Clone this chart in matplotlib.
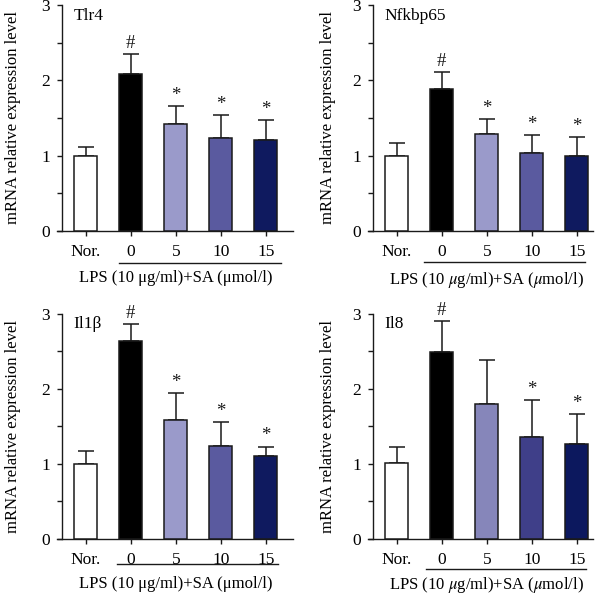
import matplotlib
matplotlib.use("Agg")
import numpy as np
from matplotlib import pyplot as plt
from matplotlib.ticker import MultipleLocator

plt.rcParams["font.family"] = ["Liberation Serif", "DejaVu Serif"]
plt.rcParams["mathtext.fontset"] = "stix"

# Data (mean and upper SD per group).
groups = ["Nor.", "0", "5", "10", "15"]
genes = ["Tlr4", "Nfkbp65", "Il1β", "Il8"]

tlr4_mean = [1.00, 2.09, 1.42, 1.23, 1.21]
tlr4_sd = [0.12, 0.26, 0.24, 0.31, 0.26]

nfkbp65_mean = [1.00, 1.89, 1.29, 1.04, 1.00]
nfkbp65_sd = [0.17, 0.22, 0.20, 0.23, 0.25]

il1b_mean = [1.00, 2.64, 1.58, 1.24, 1.10]
il1b_sd = [0.17, 0.23, 0.37, 0.32, 0.13]

il8_mean = [1.01, 2.49, 1.80, 1.36, 1.26]
il8_sd = [0.21, 0.42, 0.59, 0.49, 0.41]

marks_default = ["", "#", "*", "*", "*"]
marks_il8 = ["", "#", "", "*", "*"]

colors_a = ["white", "black", "#9a9aca", "#5a5a9f", "#0f1a5f"]
colors_b = ["white", "black", "#8686ba", "#3f3f89", "#0c185e"]

label_upright = "LPS (10 μg/ml)+SA (μmol/l)"
label_italic = r"LPS (10 $\mu$g/ml)+SA ($\mu$mol/l)"

W, H = 600, 595
fig = plt.figure(figsize=(W / 100, H / 100), dpi=100)

# axes boxes in pixels: (left, top, right, bottom)
boxes = [
    (57, 5, 293, 231),
    (368, 5, 593, 231),
    (57, 314, 293, 538.7),
    (368, 314, 593, 538.7),
]
panels = [
    (genes[0], tlr4_mean, tlr4_sd, marks_default, colors_a, label_upright, 32, 47, (0.73, 4.33)),
    (genes[1], nfkbp65_mean, nfkbp65_sd, marks_default, colors_a, label_italic, 31, 49, (0.61, 4.18)),
    (genes[2], il1b_mean, il1b_sd, marks_default, colors_a, label_upright, 25, 45, (0.69, 4.28)),
    (genes[3], il8_mean, il8_sd, marks_il8, colors_b, label_italic, 30, 46.5, (0.65, 4.20)),
]

ink = "#1a1a1a"
fs = 12
tfs = 12.5

for box, (name, mean, sd, marks, colors, xlabel, line_off, lab_off, line_x) in zip(boxes, panels):
    l, t, r, b = box
    ax = fig.add_axes([l / W, 1 - b / H, (r - l) / W, (b - t) / H])
    height_px = b - t
    x = np.arange(len(groups))

    ax.errorbar(x, mean, yerr=[np.zeros(len(sd)), sd], fmt="none", ecolor=ink,
                elinewidth=1.1, capsize=5.5, capthick=1.1, zorder=2)
    ax.bar(x, mean, width=0.51, color=colors, edgecolor=ink, linewidth=1.1, zorder=3)

    for xi, m, s, mk in zip(x, mean, sd, marks):
        if mk:
            ax.annotate(mk, (xi, m + s), xytext=(0, 1.5), textcoords="offset points",
                        ha="center", va="bottom", fontsize=13.5, color=ink,
                        annotation_clip=False)

    ax.set_xlim(-0.64, (r - l) / 45 - 0.64)
    ax.set_ylim(0, 3)
    ax.spines["left"].set_position(("data", -0.53))
    for side in ["top", "right"]:
        ax.spines[side].set_visible(False)
    for side in ["left", "bottom"]:
        ax.spines[side].set_linewidth(1.0)
        ax.spines[side].set_color(ink)

    ax.yaxis.set_major_locator(MultipleLocator(1))
    ax.yaxis.set_minor_locator(MultipleLocator(0.5))
    ax.tick_params(axis="y", which="both", length=3.6, width=1.0, color=ink,
                   labelsize=tfs, pad=5)
    ax.set_xticks(x)
    ax.set_xticklabels(groups)
    ax.tick_params(axis="x", length=3.6, width=1.0, color=ink, labelsize=tfs, pad=6)

    ax.set_ylabel("mRNA relative expression level", fontsize=fs, va="center")
    ax.yaxis.set_label_coords(-0.186 if l < 300 else -0.178, 0.5)

    ax.text(-0.28, 2.86, name, ha="left", va="center", fontsize=tfs)

    trans = ax.get_xaxis_transform()
    ax.plot(line_x, [-line_off / height_px] * 2, transform=trans, color=ink,
            lw=1.0, clip_on=False)
    ax.text(2.0, -lab_off / height_px, xlabel, transform=trans, ha="center",
            va="center", fontsize=fs)

fig.savefig("out.png", dpi=100)
